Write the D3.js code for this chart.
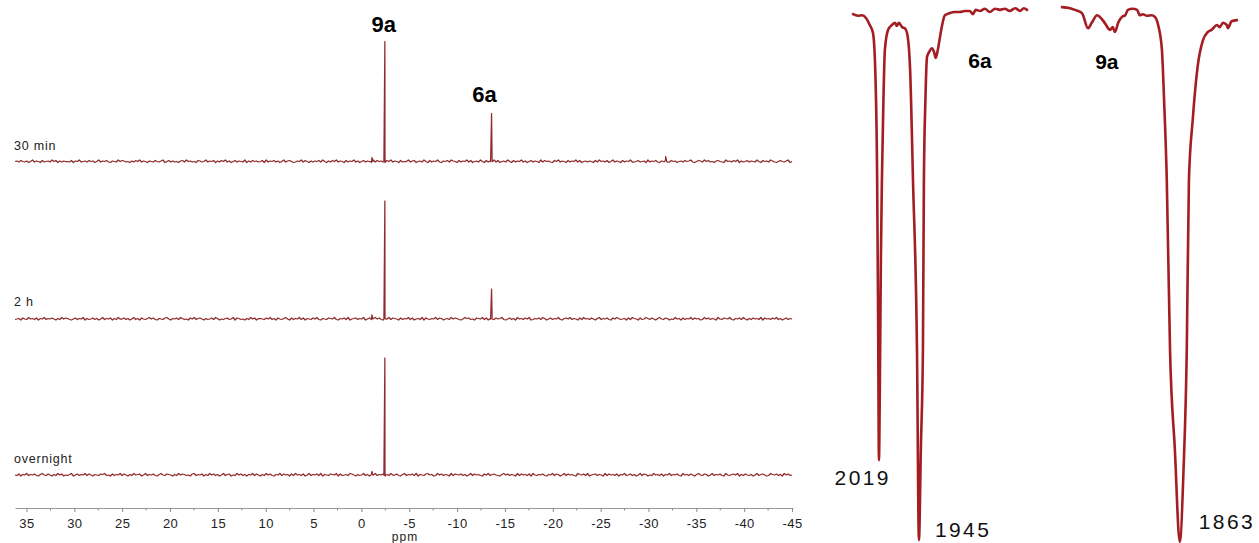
<!DOCTYPE html>
<html>
<head>
<meta charset="utf-8">
<script src="https://cdn.jsdelivr.net/npm/d3@7"></script>
<style>
  body { margin: 0; background: #fff; }
  text { font-family: "Liberation Sans", Arial, sans-serif; }
</style>
</head>
<body>
<div id="chart"></div>
<script>
// ---- NMR data (ppm) ----
var traceNames = ["30 min", "2 h", "overnight"];

// baseline noise, one digit per point (3 = zero)
var noise30 = ["34253241362431523426", "35142433251436234253", "41362435214326354231", "42536243143253246135",
               "24231452634231542362", "43514253624135243261", "42534235162435241362", "45312436253142435263",
               "14253624315243624135", "24316253421536243152", "33624513426315243621", "43526431524362513426",
               "31524362513426315243", "62413524316253421536", "24315243625134243152", "63425136243152436223",
               "52341624352143622534", "13425346213542635231", "45321634253614235243", "26315342642135324613"].join("");
var noise2h = ["23415326342514362435", "31426354213524361423", "52413624351426335241", "36241532463521432563",
               "14352642315362453142", "35264132452361542314", "26351443253624153246", "31524362514325362143",
               "25436214352613452436", "13524635214362543152", "43625134261532436254", "13426354213645231543",
               "62514325346213524163", "42536124352641352436", "21453624315263425314", "62435215364234152643",
               "15236425314632541326", "34152436253412635243", "16325436214352631425", "34261534253624135243"].join("");
var noiseOvernight = ["32514362435214632531", "42635132461352436253", "14325462315243625314", "26345136243521463254",
                      "31426354231562435142", "63524136245132635241", "43625314263521436253", "41526342513624352614",
                      "32543615234265314236", "24153624351426335214", "62435261432563412635", "24316254352413625342",
                      "15362453214635243162", "53425163243521436254", "13625342164352613452", "43162534251436235241",
                      "36254132634251436243", "52163425314632541362", "43521632453614253241", "36245312643524163523"].join("");
var noiseStart = 36.2;
var noiseEnd = -45.0;

// peaks as [ppm, intensity]
var peaks30 = [[-1.0, 0], [-1.1, 8], [-1.2, 0], [-2.35, 0], [-2.45, 240], [-2.55, 0],
               [-13.5, 0], [-13.6, 96], [-13.7, 0], [-31.7, 0], [-31.8, 10], [-31.9, 0]];
var peaks2h = [[-1.0, 0], [-1.1, 8], [-1.2, 0], [-2.35, 0], [-2.45, 236], [-2.55, 0],
               [-13.5, 0], [-13.6, 60], [-13.7, 0]];
var peaksOvernight = [[-1.0, 0], [-1.1, 7], [-1.2, 0], [-2.35, 0], [-2.45, 234], [-2.55, 0]];

var ppmTicks = [35, 30, 25, 20, 15, 10, 5, 0, -5, -10, -15, -20, -25, -30, -35, -40, -45];
var ppmMinorTicks = [32.5, 27.5, 22.5, 17.5, 12.5, 7.5, 2.5, -2.5, -7.5, -12.5, -17.5, -22.5, -27.5, -32.5, -37.5, -42.5];

// ---- IR data (cm-1, %T) ----
var ir6aWn = [2067, 2058, 2050, 2043, 2036, 2030, 2026, 2022.3, 2020.5, 2019, 2017.2, 2015.4, 2013.5, 2010.7, 2008, 2002, 1995, 1989, 1986, 1982,
              1976, 1971, 1967, 1961.5, 1956, 1948.6, 1945, 1941.3, 1937.6, 1935.8, 1933, 1930, 1926, 1921, 1917, 1914, 1910, 1906, 1902, 1897,
              1888, 1878, 1869, 1860, 1851, 1845, 1840, 1832, 1823, 1814, 1804, 1795, 1786, 1777, 1767, 1758, 1751, 1745];
var ir6aT = [98.3, 98.0, 98.1, 97.6, 96.3, 94.8, 88.5, 67.6, 41.7, 15.7, 30.6, 52.8, 67.6, 82.4, 91.7, 95.4, 96.3, 96.7, 96.1, 96.7,
             95.9, 95.7, 94.8, 88.5, 67.6, 36.1, 0.9, 18.5, 36.1, 67.6, 82.4, 90.4, 91.3, 92.0, 91.3, 90.2, 91.7, 94.1, 96.3, 98.1,
             98.5, 98.7, 98.7, 98.9, 98.9, 98.3, 99.1, 98.9, 99.3, 98.7, 99.3, 99.1, 99.3, 98.9, 99.4, 98.9, 99.4, 99.1];
var ir9aWn = [2081, 2066, 2057, 2044, 2042, 2033, 2026, 2016, 2011, 2002, 1992, 1987, 1983, 1977, 1970, 1964, 1959, 1950, 1942, 1937,
              1931, 1924, 1915, 1909, 1903, 1896, 1892, 1887, 1881, 1872, 1863, 1856, 1850, 1846, 1839, 1830, 1820, 1811, 1804, 1794,
              1789, 1783, 1776, 1774, 1767, 1757];
var ir9aT = [99.6, 99.4, 99.1, 98.5, 98.1, 95.7, 96.7, 98.1, 97.8, 96.7, 95.4, 95.9, 95.0, 96.7, 97.8, 98.1, 99.1, 99.3, 99.1, 98.1,
             98.3, 98.0, 98.1, 97.8, 96.3, 91.7, 82.4, 67.6, 36.1, 17.6, 0.6, 13.9, 36.1, 67.6, 78.7, 88.5, 93.5, 95.0, 95.4, 96.3,
             95.9, 96.7, 96.3, 95.7, 97.0, 97.2];

var svgWidth = 1259;
var svgHeight = 543;
var nmrColor = "#912a2c";
var irColor = "#a31d23";

var svg = d3.select("#chart")
  .append("svg")
  .attr("width", svgWidth)
  .attr("height", svgHeight);

// ---- NMR panel ----
var xNmr = d3.scaleLinear().domain([36.2, -45.1]).range([15, 793]);
var baselines = [161.5, 319, 475];
var noiseSets = [noise30, noise2h, noiseOvernight];
var peakSets = [peaks30, peaks2h, peaksOvernight];
var labelY = [150, 306, 463];

function buildTrace(noise, peaks) {
  var step = (noiseStart - noiseEnd) / (noise.length - 1);
  var pts = [];
  for (var i = 0; i < noise.length; i++) {
    pts.push([noiseStart - i * step, +noise[i] - 3]);
  }
  peaks.forEach(function(p) { pts.push(p); });
  pts.sort(function(a, b) { return b[0] - a[0]; });
  return pts;
}

var yScales = [];
traceNames.forEach(function(name, k) {
  var y = d3.scaleLinear().domain([0, 240]).range([baselines[k], baselines[k] - 120]);
  yScales.push(y);
  var line = d3.line()
    .x(d => xNmr(d[0]))
    .y(d => y(d[1]));

  svg.append("path")
    .datum(buildTrace(noiseSets[k], peakSets[k]))
    .attr("d", line)
    .attr("fill", "none")
    .attr("stroke", nmrColor)
    .attr("stroke-width", 1.25)
    .attr("stroke-linejoin", "round");

  svg.append("text")
    .attr("x", 14)
    .attr("y", labelY[k])
    .attr("font-size", "12.5px")
    .attr("letter-spacing", "0.8px")
    .attr("fill", "#222")
    .text(name);
});

// compound labels above the 30 min peaks
svg.append("text")
  .attr("x", xNmr(-2.45) - 1)
  .attr("y", yScales[0](240) - 10)
  .attr("text-anchor", "middle")
  .attr("font-size", "22px")
  .attr("font-weight", "bold")
  .attr("fill", "#000")
  .text("9a");

svg.append("text")
  .attr("x", xNmr(-13.6) - 7)
  .attr("y", yScales[0](96) - 12)
  .attr("text-anchor", "middle")
  .attr("font-size", "22px")
  .attr("font-weight", "bold")
  .attr("fill", "#000")
  .text("6a");

// ppm axis
var axisY = 508;
var bottomAxis = d3.axisBottom(xNmr)
  .tickValues(ppmTicks)
  .tickFormat(d => String(d))
  .tickSizeInner(4)
  .tickSizeOuter(0)
  .tickPadding(7);

var xAxis = svg.append("g")
  .attr("transform", `translate(0, ${axisY})`)
  .call(bottomAxis);

xAxis.select(".domain").attr("stroke", "#9a9a9a").attr("stroke-width", 1.2);
xAxis.selectAll(".tick line").attr("stroke", "#8a8a8a");
xAxis.selectAll(".tick text")
  .attr("font-family", "Liberation Sans, Arial, sans-serif")
  .attr("font-size", "13px")
  .attr("letter-spacing", "0.4px")
  .attr("fill", "#222");

svg.append("g")
  .selectAll("line")
  .data(ppmMinorTicks)
  .enter()
  .append("line")
  .attr("x1", d => xNmr(d))
  .attr("x2", d => xNmr(d))
  .attr("y1", axisY)
  .attr("y2", axisY + 2.5)
  .attr("stroke", "#8a8a8a");

svg.append("text")
  .attr("x", 405)
  .attr("y", 541)
  .attr("text-anchor", "middle")
  .attr("font-size", "12px")
  .attr("letter-spacing", "1px")
  .attr("fill", "#222")
  .text("ppm");

// ---- IR panel ----
var yIr = d3.scaleLinear().domain([0, 100]).range([545, 5]);
var x6a = d3.scaleLinear().domain([2067, 1745]).range([853, 1027]);
var x9a = d3.scaleLinear().domain([2081, 1757]).range([1062, 1237]);

function drawIr(wn, t, xs) {
  var pts = wn.map((w, i) => [w, t[i]]);
  var line = d3.line()
    .x(d => xs(d[0]))
    .y(d => yIr(d[1]))
    .curve(d3.curveMonotoneX);
  svg.append("path")
    .datum(pts)
    .attr("d", line)
    .attr("fill", "none")
    .attr("stroke", irColor)
    .attr("stroke-width", 2.6)
    .attr("stroke-linejoin", "round")
    .attr("stroke-linecap", "round");
}

drawIr(ir6aWn, ir6aT, x6a);
drawIr(ir9aWn, ir9aT, x9a);

// band labels
function bandLabel(txt, x, y, anchor) {
  svg.append("text")
    .attr("x", x)
    .attr("y", y)
    .attr("text-anchor", anchor)
    .attr("font-size", "21px")
    .attr("letter-spacing", "2.4px")
    .attr("fill", "#111")
    .text(txt);
}
bandLabel("2019", x6a(2019) + 12, yIr(15.7) + 25, "end");
bandLabel("1945", x6a(1945) + 16, yIr(0.9) - 3, "start");
bandLabel("1863", x9a(1863) + 19, yIr(0.6) - 13, "start");

svg.append("text")
  .attr("x", x6a(1832))
  .attr("y", 68)
  .attr("text-anchor", "middle")
  .attr("font-size", "21px")
  .attr("font-weight", "bold")
  .attr("fill", "#000")
  .text("6a");

svg.append("text")
  .attr("x", x9a(1998))
  .attr("y", 69)
  .attr("text-anchor", "middle")
  .attr("font-size", "21px")
  .attr("font-weight", "bold")
  .attr("fill", "#000")
  .text("9a");
</script>
</body>
</html>
